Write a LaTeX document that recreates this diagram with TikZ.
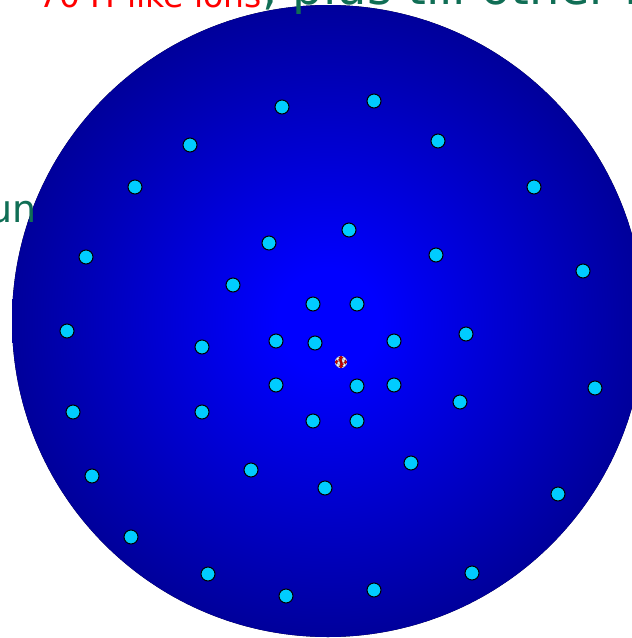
\documentclass[tikz,border=0pt]{standalone}
\usepackage{fontspec}
\setmainfont{DejaVu Sans}
\definecolor{navyc}{RGB}{0,0,112}
\definecolor{bluec}{RGB}{0,0,255}
\definecolor{dotc}{RGB}{0,204,255}
\definecolor{txtgreen}{RGB}{16,110,85}
\definecolor{txtred}{RGB}{255,0,0}
\pgfdeclareradialshading{ballshade}{\pgfpoint{0bp}{0bp}}{color(0bp)=(bluec); color(4bp)=(bluec); color(34bp)=(navyc); color(50bp)=(navyc)}
\tikzset{
  electron/.style={circle, draw=black, line width=1pt, fill=dotc, minimum size=14pt, inner sep=0pt},
  labeltxt/.style={inner sep=0pt, font=\fontsize{33}{40}\selectfont},
  nred/.style={circle, fill=red!85!black, draw=red!50!black, line width=0.3pt, inner sep=0pt, minimum size=3.4pt},
  nwhite/.style={circle, fill=white, draw=gray, line width=0.3pt, inner sep=0pt, minimum size=3.4pt}
}
\begin{document}
\begin{tikzpicture}[x=1pt,y=-1pt]
\useasboundingbox (0,0) rectangle (632,638);
\fill[white] (0,0) rectangle (632,638);
\clip (0,0) rectangle (632,638);
% atom
\fill[shading=ballshade] (328,321) circle[radius=316pt];
% text
\node[labeltxt, anchor=base west, text=txtred] (title) at (38,7) {70 H-like ions};
\node[labeltxt, anchor=base west, text=txtgreen, font=\fontsize{48}{50}\selectfont] (title2) at ([yshift=3pt]title.base east) {, plus till other H};
\node[labeltxt, anchor=base east, text=txtgreen, font=\fontsize{38}{44}\selectfont] (side) at (37,222) {un};
% nucleus
\begin{scope}[shift={(341,362)}]
  \node[circle, fill=white!85!gray, inner sep=0pt, minimum size=12pt] (nucleus) at (0,0) {};
  \foreach \a/\s in {0/nred,45/nwhite,90/nred,135/nwhite,180/nred,225/nwhite,270/nred,315/nwhite}
    \node[\s] (nu\a) at (\a:4.4pt) {};
  \foreach \a/\s in {22/nwhite,112/nred,202/nwhite,292/nred}
    \node[\s] (ni\a) at (\a:2.2pt) {};
  \node[nred, minimum size=2.6pt] (nc) at (0,0) {};
\end{scope}
% electrons
\foreach \x/\y [count=\i] in {
  313/304, 357/304, 276/341, 315/343, 394/341, 276/385, 357/386, 394/385, 313/421, 357/421,
  349/230, 269/243, 436/255, 233/285, 466/334, 202/347, 460/402, 202/412, 411/463, 251/470, 325/488,
  282/107, 374/101, 190/145, 438/141, 135/187, 534/187, 86/257, 583/271, 67/331, 595/388,
  73/412, 92/476, 558/494, 131/537, 472/573, 208/574, 286/596, 374/590}
  \node[electron] (e\i) at (\x,\y) {};
\end{tikzpicture}
\end{document}
